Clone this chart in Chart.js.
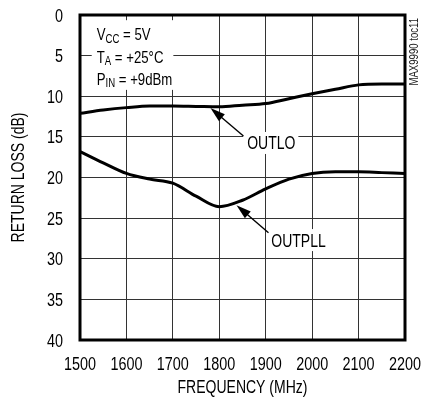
<!DOCTYPE html>
<html>
<head>
<meta charset="utf-8">
<script src="https://cdn.jsdelivr.net/npm/chart.js@4.4.1/dist/chart.umd.min.js"></script>
<style>
  html, body { margin: 0; padding: 0; background: #fff; }
</style>
</head>
<body>
<canvas id="chart" width="424" height="403"></canvas>
<script>
// frequency points (MHz) and return loss (dB)
const freqs  = [1500, 1550, 1600, 1650, 1700, 1750, 1800, 1850, 1900, 1950, 2000, 2050, 2100, 2150, 2200];
const outlo  = [12.1, 11.7, 11.4, 11.2, 11.2, 11.25, 11.3, 11.1, 10.9, 10.3, 9.7, 9.15, 8.6, 8.5, 8.5];
const outpll = [16.8, 18.2, 19.5, 20.2, 20.7, 22.3, 23.6, 22.8, 21.4, 20.2, 19.5, 19.3, 19.3, 19.4, 19.5];

const xMin = 1500, xMax = 2200, xStep = 100;
const yMin = 0, yMax = 40, yStep = 5;
const xTitle = 'FREQUENCY (MHz)';
const yTitle = 'RETURN LOSS (dB)';
const figId = 'MAX9990 toc11';

// condition block, line by line: [main, subscript, rest]
const condLines = [
  ['V', 'CC', ' = 5V'],
  ['T', 'A', ' = +25\u00B0C'],
  ['P', 'IN', ' = +9dBm'],
];
const condAnchor = { x: 1536, y: [3.1, 5.9, 8.6] }; // baselines

// curve labels: text position + arrow (from -> tip) in data units
const callouts = [
  { text: 'OUTLO',  tx: 1860, ty: 15.75, from: [1852, 14.9], tip: [1781, 11.45] },
  { text: 'OUTPLL', tx: 1912, ty: 27.7,  from: [1906, 26.8], tip: [1837, 23.4] },
];

// Helvetica Narrow look: Liberation Sans squeezed horizontally
const FONT = "'Liberation Sans', Arial, sans-serif";
const SQ = 0.8;

const toPoints = ys => freqs.map((f, i) => ({ x: f, y: ys[i] }));

function narrowWidth(ctx, text, size) {
  ctx.font = size + 'px ' + FONT;
  return ctx.measureText(text).width * SQ;
}

function narrowText(ctx, text, x, y, size, align = 'left') {
  ctx.save();
  ctx.font = size + 'px ' + FONT;
  ctx.translate(x, y);
  ctx.scale(SQ, 1);
  ctx.textAlign = align;
  ctx.textBaseline = 'alphabetic';
  ctx.fillText(text, 0, 0);
  ctx.restore();
}

function drawArrow(ctx, x0, y0, x1, y1) {
  const ang = Math.atan2(y1 - y0, x1 - x0);
  const len = 15, half = 4.5;
  const c = Math.cos(ang), s = Math.sin(ang);
  ctx.strokeStyle = '#000';
  ctx.lineWidth = 1.4;
  ctx.beginPath();
  ctx.moveTo(x0, y0);
  ctx.lineTo(x1 - c * len * 0.8, y1 - s * len * 0.8);
  ctx.stroke();
  ctx.fillStyle = '#000';
  ctx.beginPath();
  ctx.moveTo(x1, y1);
  ctx.lineTo(x1 - c * len - s * half, y1 - s * len + c * half);
  ctx.lineTo(x1 - c * len + s * half, y1 - s * len - c * half);
  ctx.closePath();
  ctx.fill();
}

const decor = {
  id: 'decor',
  afterDatasetsDraw(chart) {
    const { ctx, chartArea: a, scales: { x, y } } = chart;
    ctx.save();
    ctx.fillStyle = '#000';

    // frame
    ctx.strokeStyle = '#000';
    ctx.lineWidth = 3;
    ctx.strokeRect(a.left, a.top, a.right - a.left, a.bottom - a.top);

    // tick labels, from the library's scales
    x.ticks.forEach(t => narrowText(ctx, String(t.value), x.getPixelForValue(t.value), a.bottom + 30, 18, 'center'));
    y.ticks.forEach(t => narrowText(ctx, String(t.value), a.left - 17, y.getPixelForValue(t.value) + 6.5, 18, 'right'));

    // axis titles
    narrowText(ctx, xTitle, (a.left + a.right) / 2, a.bottom + 53, 17.5, 'center');
    ctx.save();
    ctx.translate(24, (a.top + a.bottom) / 2);
    ctx.rotate(-Math.PI / 2);
    narrowText(ctx, yTitle, 0, 0, 17.5, 'center');
    ctx.restore();

    // condition text on a white block
    const bx = x.getPixelForValue(condAnchor.x);
    const base = condAnchor.y.map(v => y.getPixelForValue(v));
    const widths = condLines.map(ln =>
      narrowWidth(ctx, ln[0], 16.5) + narrowWidth(ctx, ln[1], 12) + narrowWidth(ctx, ln[2], 16.5));
    ctx.fillStyle = '#fff';
    ctx.fillRect(bx - 5, base[0] - 20, Math.max(...widths) + 6, base[2] - base[0] + 25);
    ctx.fillStyle = '#000';
    condLines.forEach((ln, i) => {
      let px = bx;
      narrowText(ctx, ln[0], px, base[i], 16.5);
      px += narrowWidth(ctx, ln[0], 16.5);
      narrowText(ctx, ln[1], px, base[i] + 2.5, 12);
      px += narrowWidth(ctx, ln[1], 12);
      narrowText(ctx, ln[2], px, base[i], 16.5);
    });

    // callouts
    callouts.forEach(c => {
      const tx = x.getPixelForValue(c.tx), ty = y.getPixelForValue(c.ty);
      const w = narrowWidth(ctx, c.text, 17.5);
      ctx.fillStyle = '#fff';
      ctx.fillRect(tx - 4, ty - 11, w + 7, 22);
      ctx.fillStyle = '#000';
      narrowText(ctx, c.text, tx, ty + 6.5, 17.5);
      drawArrow(ctx, x.getPixelForValue(c.from[0]), y.getPixelForValue(c.from[1]),
                x.getPixelForValue(c.tip[0]), y.getPixelForValue(c.tip[1]));
    });

    // figure id, rotated on the right
    ctx.save();
    ctx.translate(a.right + 13, a.top + 3);
    ctx.rotate(-Math.PI / 2);
    ctx.fillStyle = '#222';
    narrowText(ctx, figId, 0, 0, 12, 'right');
    ctx.restore();

    ctx.restore();
  }
};

new Chart(document.getElementById('chart'), {
  type: 'line',
  data: {
    datasets: [
      { label: 'OUTLO', data: toPoints(outlo) },
      { label: 'OUTPLL', data: toPoints(outpll) },
    ].map(d => ({
      ...d,
      borderColor: '#000',
      borderWidth: 3,
      pointRadius: 0,
      fill: false,
      cubicInterpolationMode: 'monotone',
    })),
  },
  options: {
    responsive: false,
    animation: false,
    devicePixelRatio: 1,
    layout: { padding: { top: 15, right: 19, left: 0, bottom: 0 } },
    plugins: { legend: { display: false }, tooltip: { enabled: false } },
    scales: {
      x: {
        type: 'linear',
        min: xMin, max: xMax,
        ticks: { stepSize: xStep, display: false },
        grid: { color: '#333', lineWidth: 1, drawTicks: false },
        border: { display: false },
        afterFit(s) { s.height = 63; },
      },
      y: {
        min: yMin, max: yMax, reverse: true,
        ticks: { stepSize: yStep, display: false },
        grid: { color: '#333', lineWidth: 1, drawTicks: false },
        border: { display: false },
        afterFit(s) { s.width = 80; },
      },
    },
  },
  plugins: [decor],
});
</script>
</body>
</html>
